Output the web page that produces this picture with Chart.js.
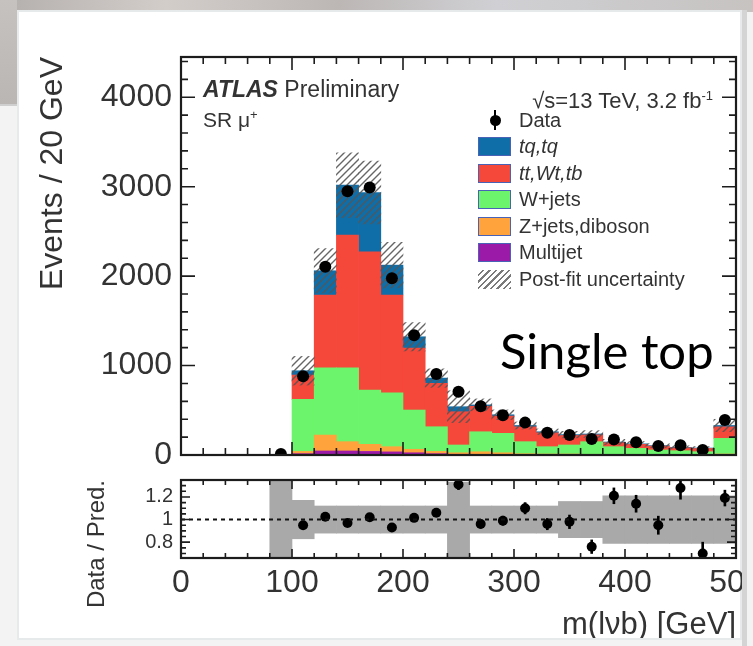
<!DOCTYPE html>
<html>
<head>
<meta charset="utf-8">
<title>Single top - m(lvb)</title>
<script src="https://cdn.jsdelivr.net/npm/chart.js@4.4.1/dist/chart.umd.min.js"></script>
<style>
  html, body { margin: 0; padding: 0; }
  body { width: 753px; height: 646px; overflow: hidden; position: relative; background: #f3f3f3;
         font-family: "Liberation Sans", Arial, sans-serif; color: #333; }
  .bgtop { position: absolute; left: 0; top: 0; width: 753px; height: 12px;
           background: linear-gradient(90deg, #b3afac 0%, #d3cdca 22%, #bcb7b5 45%, #d0d0d4 66%, #c6c3c1 100%); }
  .bgleft { position: absolute; left: 0; top: 0; width: 17px; height: 104px;
            background: linear-gradient(180deg, #c6c2bf, #bab6b3); border-bottom: 2px solid #cfcfcf; }
  #card { position: absolute; left: 17px; top: 10px; width: 721px; height: 626px; background: #fff; border: 2px solid #e6eaea; }
  .edge { position: absolute; left: 742px; top: 10px; width: 5px; height: 636px; background: #d4d4d4; }
  #plot { position: absolute; left: 0; top: 0; width: 753px; height: 646px; clip-path: inset(12px 11px 8px 19px); }
  #plot canvas { position: absolute; left: 0; }
  .txt { position: absolute; white-space: nowrap; color: #333; }
  .sup { font-size: 13px; position: relative; top: -8px; }
  .row { position: absolute; left: 478px; height: 20px; display: flex; align-items: center; font-size: 20px; white-space: nowrap; color: #333; }
  .bx { width: 33px; height: 19px; box-sizing: border-box; border: 1px solid #4a62b5; margin-right: 8px; flex: none; }
  .mk { position: relative; width: 33px; height: 20px; margin-right: 8px; flex: none; }
  .mk::before { content: ''; position: absolute; left: 16px; top: 0; width: 2px; height: 20px; background: #000; }
  .mk::after { content: ''; position: absolute; left: 11.5px; top: 4.5px; width: 11px; height: 11px; border-radius: 50%; background: #000; }
  .hatch { width: 33px; height: 19px; margin-right: 8px; flex: none;
           background: repeating-linear-gradient(135deg, #fff 0px, #fff 3px, #7a7a7a 3px, #7a7a7a 4.6px); }
  .single { position: absolute; left: 500px; top: 326px; font-family: Lato, "Open Sans", sans-serif; font-size: 49px; line-height: 49px; color: #000; white-space: nowrap; }
</style>
</head>
<body>
<div class="bgtop"></div>
<div class="bgleft"></div>
<div id="card"></div>
<div class="edge"></div>

<div id="plot">
  <canvas id="cMain" width="800" height="490" style="top:0px"></canvas>
  <canvas id="cRatio" width="800" height="186" style="top:460px"></canvas>

  <div class="txt" style="left:203px; top:77px; font-size:23px; line-height:24px;"><b><i>ATLAS</i></b> Preliminary</div>
  <div class="txt" style="left:203px; top:108px; font-size:21px; line-height:24px;">SR μ<span class="sup">+</span></div>
  <div class="txt" style="right:40px; top:89px; font-size:22px; line-height:24px;">√s=13 TeV, 3.2 fb<span class="sup">-1</span></div>

  <div class="row" style="top:110px"><span class="mk"></span>Data</div>
  <div class="row" style="top:136.5px"><span class="bx" style="background:#0f6ea8"></span><i>tq,tq</i></div>
  <div class="row" style="top:163px"><span class="bx" style="background:#f5473a"></span><i>tt,Wt,tb</i></div>
  <div class="row" style="top:189.5px"><span class="bx" style="background:#6cf56c"></span>W+jets</div>
  <div class="row" style="top:216px"><span class="bx" style="background:#ffa43c"></span>Z+jets,diboson</div>
  <div class="row" style="top:242.5px"><span class="bx" style="background:#9c1aa8"></span>Multijet</div>
  <div class="row" style="top:269px"><span class="hatch"></span>Post-fit uncertainty</div>

  <div class="single">Single top</div>
</div>

<script>
// bins of 20 GeV, centres
const binCenters = [10, 30, 50, 70, 90, 110, 130, 150, 170, 190, 210, 230, 250,
                    270, 290, 310, 330, 350, 370, 390, 410, 430, 450, 470, 490];

// stacked predictions (events / 20 GeV), bottom to top
const multijet     = [0, 0, 0, 0, 0, 15, 45, 45, 40, 35, 25, 15, 8, 6, 5, 4, 3, 3, 2, 2, 2, 2, 1, 1, 3];
const zjetsDiboson = [0, 0, 0, 0, 0, 25, 178, 104, 79, 58, 39, 25, 17, 30, 20, 10, 8, 8, 6, 5, 4, 4, 3, 3, 8];
const wjets        = [0, 0, 0, 0, 3, 582, 753, 827, 607, 603, 439, 276, 87, 224, 217, 135, 82, 101, 141, 86, 68, 50, 44, 33, 175];
const ttbarWtTb    = [0, 0, 0, 0, 2, 272, 812, 1482, 1546, 1092, 692, 485, 372, 285, 193, 166, 155, 106, 76, 45, 45, 44, 32, 36, 129];
const tqSignal     = [0, 0, 0, 0, 0, 48, 272, 559, 663, 335, 127, 59, 56, 15, 15, 15, 12, 10, 10, 7, 6, 5, 5, 5, 15];

const dataEvents = [null, null, null, null, 12, 880, 2104, 2950, 2990, 1975, 1340, 905, 708,
                    545, 445, 362, 249, 223, 180, 172, 142, 100, 108, 55, 391];

// relative post-fit uncertainty per bin
const uncRel = [null, null, null, null, 0.5, 0.17, 0.12, 0.12, 0.12, 0.12, 0.12, 0.12, 0.33,
                0.12, 0.12, 0.12, 0.12, 0.16, 0.16, 0.21, 0.21, 0.21, 0.21, 0.21, 0.21];

// ratio panel
const ratioValues = [null, null, null, null, null, 0.95, 1.025, 0.97, 1.02, 0.93, 1.015, 1.06, 1.31,
                     0.96, 0.99, 1.10, 0.96, 0.98, 0.76, 1.21, 1.14, 0.95, 1.28, 0.70, 1.19];
const ratioErrors = [null, null, null, null, null, 0.02, 0.015, 0.012, 0.012, 0.015, 0.02, 0.025, 0.045,
                     0.035, 0.04, 0.05, 0.05, 0.06, 0.06, 0.07, 0.075, 0.08, 0.1, 0.1, 0.07];

// axes
const xTicks = [0, 100, 200, 300, 400, 500];
const xTickLabels = ['0', '100', '200', '300', '400', '500'];
const yTicksMain = [0, 1000, 2000, 3000, 4000];
const yTickLabelsMain = ['0', '1000', '2000', '3000', '4000'];
const ratioTicks = [0.8, 1, 1.2];
const ratioTickLabels = ['0.8', '1', '1.2'];

Chart.defaults.font.family = '"Liberation Sans", Arial, sans-serif';
Chart.defaults.color = '#333';

const toXY = (arr) => binCenters.map((x, i) => ({ x: x, y: arr[i] }));

const totals = binCenters.map((x, i) => multijet[i] + zjetsDiboson[i] + wjets[i] + ttbarWtTb[i] + tqSignal[i]);
const uncBand = binCenters.map((x, i) => ({
    x: x,
    y: uncRel[i] == null ? null : [totals[i] * (1 - uncRel[i]), totals[i] * (1 + uncRel[i])]
}));
const ratioBand = binCenters.map((x, i) => ({ x: x, y: uncRel[i] == null ? null : [1 - uncRel[i], 1 + uncRel[i]] }));
const ratioBars = binCenters.map((x, i) => ({
    x: x,
    y: ratioValues[i] == null ? null : [ratioValues[i] - ratioErrors[i], ratioValues[i] + ratioErrors[i]]
}));

const makeHatch = () => {
    const c = document.createElement('canvas');
    c.width = 7; c.height = 7;
    const g = c.getContext('2d');
    g.strokeStyle = 'rgba(85,85,85,0.9)';
    g.lineWidth = 1.4;
    g.beginPath();
    g.moveTo(0, 7); g.lineTo(7, 0);
    g.moveTo(-2, 2); g.lineTo(2, -2);
    g.moveTo(5, 9); g.lineTo(9, 5);
    g.stroke();
    return g.createPattern(c, 'repeat');
}

// frame with inward ticks on all four sides (ROOT style)
const isMajor = (v, major) => Math.abs(v / major - Math.round(v / major)) < 1e-6;

const framePlugin = {
    id: 'frame',
    afterDatasetsDraw(chart, args, o) {
        const { ctx, chartArea: a, scales } = chart;
        const x = scales.x, y = scales.y;
        ctx.save();
        if (o.refLine != null) {
            ctx.strokeStyle = '#111';
            ctx.lineWidth = 2;
            ctx.setLineDash([4, 4]);
            ctx.beginPath();
            const py = y.getPixelForValue(o.refLine);
            ctx.moveTo(a.left, py); ctx.lineTo(a.right, py);
            ctx.stroke();
            ctx.setLineDash([]);
        }
        ctx.strokeStyle = '#1c1c1c';
        ctx.lineWidth = 1.6;
        ctx.beginPath();
        for (let i = 0; o.xStart + i * o.xStep <= o.xEnd + 1e-9; i++) {
            const v = o.xStart + i * o.xStep;
            const px = x.getPixelForValue(v);
            const len = isMajor(v, o.xMajor) ? o.xLong : o.xShort;
            ctx.moveTo(px, a.bottom); ctx.lineTo(px, a.bottom - len);
            ctx.moveTo(px, a.top); ctx.lineTo(px, a.top + len);
        }
        for (let i = 0; o.yStart + i * o.yStep <= o.yEnd + 1e-9; i++) {
            const v = o.yStart + i * o.yStep;
            const py = y.getPixelForValue(v);
            const len = isMajor(v, o.yMajor) ? o.yLong : o.yShort;
            ctx.moveTo(a.left, py); ctx.lineTo(a.left + len, py);
            ctx.moveTo(a.right, py); ctx.lineTo(a.right - len, py);
        }
        ctx.stroke();
        ctx.lineWidth = 2.2;
        ctx.strokeRect(a.left, a.top, a.right - a.left, a.bottom - a.top);
        ctx.restore();
    }
};

const stackDs = (label, arr, color) => ({
    type: 'bar', label: label, data: toXY(arr), backgroundColor: color,
    stack: 'mc', yAxisID: 'y', order: 2, borderWidth: 0,
    barPercentage: 1, categoryPercentage: 1
});

const chartMain = new Chart(document.getElementById('cMain').getContext('2d'), {
    type: 'bar',
    data: {
        datasets: [
            { type: 'scatter', label: 'Data', data: toXY(dataEvents), order: 0, yAxisID: 'y',
              pointRadius: 6, pointBackgroundColor: '#000', pointBorderWidth: 0 },
            { type: 'bar', label: 'Post-fit uncertainty', data: uncBand, order: 1, yAxisID: 'yh',
              backgroundColor: makeHatch(), borderWidth: 0, grouped: false,
              barPercentage: 1, categoryPercentage: 1 },
            stackDs('Multijet', multijet, '#9c1aa8'),
            stackDs('Z+jets,diboson', zjetsDiboson, '#ffa43c'),
            stackDs('W+jets', wjets, '#6cf56c'),
            stackDs('tt,Wt,tb', ttbarWtTb, '#f5473a'),
            stackDs('tq,tq', tqSignal, '#0f6ea8')
        ]
    },
    options: {
        responsive: false,
        animation: false,
        layout: { padding: { left: 0, top: 57, right: 64, bottom: 35 } },
        plugins: {
            legend: { display: false },
            tooltip: { enabled: false },
            frame: { xStart: 0, xEnd: 500, xStep: 20, xMajor: 100, xLong: 13, xShort: 7,
                     yStart: 0, yEnd: 4400, yStep: 200, yMajor: 1000, yLong: 14, yShort: 7 }
        },
        scales: {
            x: { type: 'linear', min: 0, max: 500, offset: false, stacked: true, display: false },
            y: {
                min: 0, max: 4450, stacked: true,
                grid: { display: false, drawTicks: false }, border: { display: false },
                afterFit: (s) => { s.width = 181 },
                afterBuildTicks: (s) => { s.ticks = yTicksMain.map(v => ({ value: v })) },
                ticks: { font: { size: 32 }, padding: 9, callback: (v, i) => yTickLabelsMain[i] },
                title: { display: true, text: 'Events / 20 GeV', align: 'end', font: { size: 32 }, padding: { top: 34, bottom: 0 } }
            },
            yh: { min: 0, max: 4450, display: false }
        }
    },
    plugins: [framePlugin]
});

const chartRatio = new Chart(document.getElementById('cRatio').getContext('2d'), {
    type: 'bar',
    data: {
        datasets: [
            { type: 'scatter', label: 'Data / Pred.', data: toXY(ratioValues), order: 0,
              pointRadius: 5, pointBackgroundColor: '#000', pointBorderWidth: 0 },
            { type: 'bar', label: 'stat', data: ratioBars, order: 1, backgroundColor: '#000',
              borderWidth: 0, grouped: false, maxBarThickness: 2, barPercentage: 1, categoryPercentage: 1 },
            { type: 'bar', label: 'unc', data: ratioBand, order: 2, backgroundColor: '#a9a9a9',
              borderWidth: 0, grouped: false, barPercentage: 1, categoryPercentage: 1, clip: 0 }
        ]
    },
    options: {
        responsive: false,
        animation: false,
        layout: { padding: { left: 0, top: 18, right: 64, bottom: 0 } },
        plugins: {
            legend: { display: false },
            tooltip: { enabled: false },
            frame: { xStart: 0, xEnd: 500, xStep: 20, xMajor: 100, xLong: 9, xShort: 5,
                     yStart: 0.7, yEnd: 1.35, yStep: 0.05, yMajor: 0.2, yLong: 9, yShort: 5, refLine: 1 }
        },
        scales: {
            x: {
                type: 'linear', min: 0, max: 500, offset: false,
                grid: { display: false, drawTicks: false }, border: { display: false },
                afterBuildTicks: (s) => { s.ticks = xTicks.map(v => ({ value: v })) },
                afterFit: (s) => { s.height = 88 },
                ticks: { font: { size: 32 }, padding: 6, maxRotation: 0, autoSkip: false, callback: (v, i) => xTickLabels[i] },
                title: { display: true, text: 'm(lνb) [GeV]', align: 'end', font: { size: 31 }, padding: { top: 0, bottom: 2 } }
            },
            y: {
                min: 0.66, max: 1.35,
                grid: { display: false, drawTicks: false }, border: { display: false },
                afterFit: (s) => { s.width = 181 },
                afterBuildTicks: (s) => { s.ticks = ratioTicks.map(v => ({ value: v })) },
                ticks: { font: { size: 20 }, padding: 8, callback: (v, i) => ratioTickLabels[i] },
                title: { display: true, text: 'Data / Pred.', align: 'end', font: { size: 24 }, padding: { top: 83, bottom: 0 } }
            }
        }
    },
    plugins: [framePlugin]
});
</script>
</body>
</html>
